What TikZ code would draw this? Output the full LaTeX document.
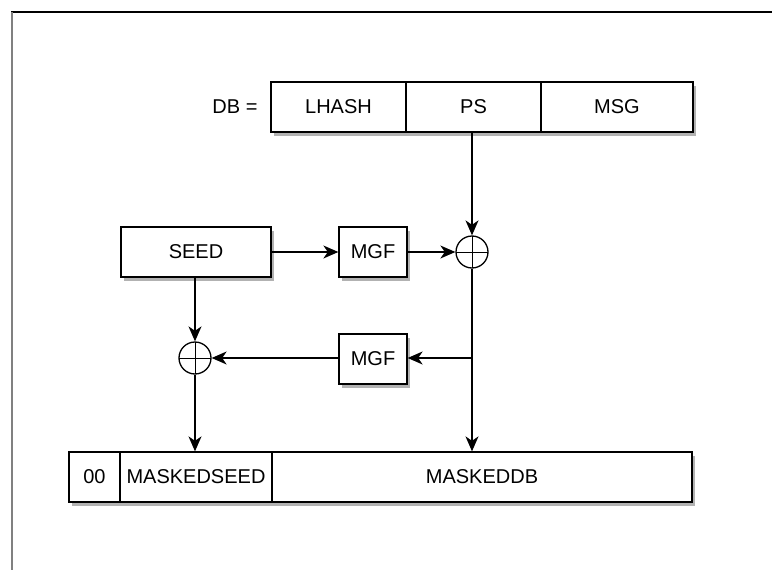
\documentclass[tikz,border=0pt]{standalone}
\usepackage{fontspec}
\setmainfont{Liberation Sans}
\usetikzlibrary{shadows,arrows.meta}
\begin{document}
\begin{tikzpicture}[x=1pt,y=-1pt,
  cell/.style={draw, line width=1.3pt, fill=white, minimum height=50pt, inner sep=0pt,
    font=\fontsize{20}{23}\selectfont,
    drop shadow={shadow xshift=3pt, shadow yshift=-4pt, fill=black!30, opacity=1}},
  xor/.style={circle, draw, line width=1.3pt, fill=white, minimum size=32pt, inner sep=0pt,
    path picture={\draw[line width=0.9pt] (path picture bounding box.north) -- (path picture bounding box.south)
      (path picture bounding box.west) -- (path picture bounding box.east);}},
  lbl/.style={font=\fontsize{20}{23}\selectfont, inner sep=0pt},
  arr/.style={line width=1.3pt, -{Stealth[length=15pt, width=13pt, inset=4.5pt]}}
]
\useasboundingbox (0,0) rectangle (772,570);
\fill[white] (0,0) rectangle (772,570);
% frame
\draw[line width=1.5pt, black] (11,12) -- (772,12);
\draw[line width=2pt, black!50] (12,12) -- (12,570);

% top row
\node[lbl] (dblabel) at (235,107) {DB =};
\node[cell, minimum width=135pt] (lhash) at (338.5,107) {LHASH};
\node[cell, minimum width=135pt] (ps) at (473.5,107) {PS};
\node[cell, minimum width=152pt] (msg) at (617,107) {MSG};

% middle
\node[cell, minimum width=150pt] (seed) at (196,252) {SEED};
\node[cell, minimum width=68pt] (mgfa) at (373,252) {MGF};
\node[xor] (xora) at (472,252) {};
\node[cell, minimum width=68pt] (mgfb) at (373,359) {MGF};
\node[xor] (xorb) at (195,358) {};

% bottom row
\node[cell, minimum width=51pt] (zz) at (94.5,477) {00};
\node[cell, minimum width=152pt] (mseed) at (196,477) {MASKEDSEED};
\node[cell, minimum width=420pt] (mdb) at (482,477) {MASKEDDB};

\coordinate (br) at (xora.south |- 0,358);

% connectors
\draw[arr] (ps.south -| xora.north) -- (xora.north);
\draw[arr] (seed.east |- mgfa.west) -- (mgfa.west);
\draw[arr] (mgfa.east) -- (xora.west);
\draw[arr] (xora.south) -- (xora.south |- mdb.north);
\draw[arr] (br) -- (mgfb.east |- br);
\draw[arr] (mgfb.west |- xorb.east) -- (xorb.east);
\draw[arr] (seed.south -| xorb.north) -- (xorb.north);
\draw[arr] (xorb.south) -- (xorb.south |- mseed.north);
\end{tikzpicture}
\end{document}
